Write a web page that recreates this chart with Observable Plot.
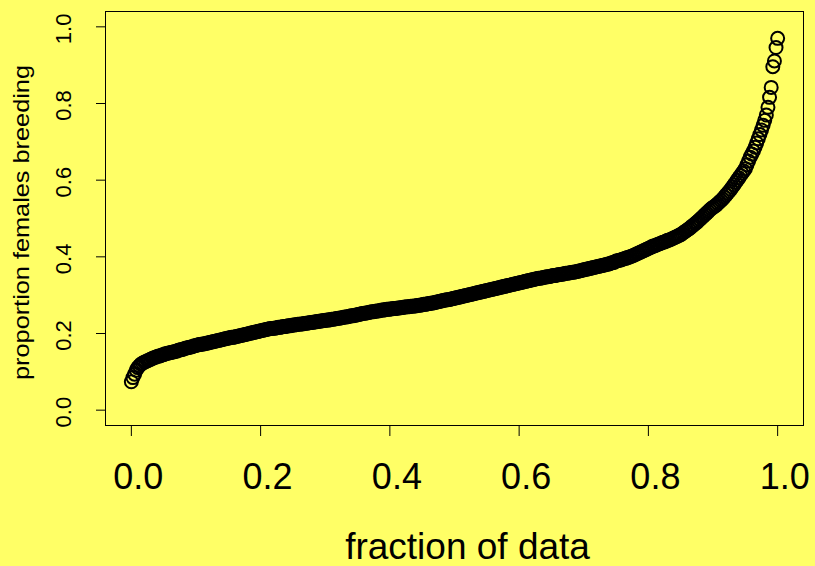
<!DOCTYPE html>
<html>
<head>
<meta charset="utf-8">
<script src="https://cdn.jsdelivr.net/npm/d3@7"></script>
<script src="https://cdn.jsdelivr.net/npm/@observablehq/plot@0.6"></script>
<style>
  html, body { margin: 0; padding: 0; background: #ffff66; }
  #chart svg { display: block; }
</style>
</head>
<body>
<div id="chart"></div>
<script>
// Sorted values (proportion females breeding), evenly spaced in fraction of data
const breedingValues = [
  0.074,0.085,0.094,0.104,0.111,0.116,0.120,0.123,0.125,0.127,0.129,0.131,0.133,0.135,0.137,0.138,0.140,0.141,0.142,0.144,
  0.145,0.147,0.148,0.149,0.150,0.151,0.152,0.153,0.154,0.156,0.157,0.158,0.159,0.161,0.162,0.163,0.164,0.165,0.166,0.168,
  0.169,0.170,0.171,0.172,0.172,0.173,0.174,0.175,0.176,0.177,0.178,0.179,0.180,0.181,0.182,0.183,0.184,0.185,0.186,0.187,
  0.188,0.189,0.190,0.190,0.191,0.192,0.193,0.194,0.195,0.196,0.197,0.198,0.199,0.200,0.201,0.202,0.203,0.204,0.205,0.206,
  0.207,0.208,0.209,0.210,0.211,0.212,0.213,0.213,0.214,0.214,0.215,0.216,0.216,0.217,0.218,0.218,0.219,0.220,0.220,0.221,
  0.222,0.222,0.223,0.224,0.224,0.225,0.225,0.226,0.227,0.227,0.228,0.229,0.229,0.230,0.230,0.231,0.232,0.232,0.233,0.234,
  0.234,0.235,0.235,0.236,0.237,0.237,0.238,0.239,0.240,0.240,0.241,0.242,0.243,0.243,0.244,0.245,0.246,0.246,0.247,0.248,
  0.249,0.250,0.251,0.252,0.253,0.253,0.254,0.255,0.256,0.257,0.257,0.258,0.259,0.259,0.260,0.261,0.261,0.262,0.263,0.263,
  0.264,0.264,0.265,0.265,0.266,0.266,0.267,0.267,0.268,0.269,0.269,0.270,0.270,0.271,0.271,0.272,0.272,0.273,0.274,0.274,
  0.275,0.276,0.276,0.277,0.278,0.279,0.279,0.280,0.281,0.282,0.283,0.284,0.285,0.286,0.287,0.288,0.288,0.289,0.290,0.291,
  0.292,0.293,0.294,0.295,0.296,0.297,0.298,0.299,0.300,0.301,0.302,0.303,0.304,0.305,0.306,0.307,0.308,0.309,0.310,0.311,
  0.312,0.313,0.314,0.315,0.316,0.317,0.318,0.319,0.320,0.321,0.322,0.323,0.324,0.325,0.326,0.327,0.328,0.329,0.330,0.331,
  0.332,0.333,0.334,0.335,0.336,0.337,0.338,0.339,0.340,0.341,0.342,0.343,0.344,0.344,0.345,0.346,0.347,0.348,0.348,0.349,
  0.350,0.351,0.351,0.352,0.353,0.354,0.354,0.355,0.356,0.357,0.357,0.358,0.359,0.360,0.360,0.361,0.362,0.363,0.364,0.365,
  0.366,0.367,0.368,0.369,0.370,0.371,0.372,0.373,0.374,0.375,0.376,0.377,0.378,0.379,0.380,0.381,0.382,0.384,0.385,0.386,
  0.389,0.390,0.391,0.392,0.394,0.395,0.396,0.398,0.399,0.401,0.402,0.404,0.406,0.408,0.410,0.412,0.414,0.416,0.418,0.420,
  0.422,0.424,0.426,0.428,0.429,0.431,0.433,0.434,0.436,0.438,0.439,0.441,0.443,0.444,0.446,0.448,0.450,0.452,0.454,0.456,
  0.458,0.461,0.464,0.467,0.470,0.473,0.476,0.480,0.483,0.487,0.490,0.494,0.498,0.502,0.506,0.510,0.514,0.518,0.522,0.526,
  0.529,0.532,0.535,0.539,0.543,0.547,0.551,0.556,0.561,0.566,0.571,0.576,0.582,0.588,0.594,0.600,0.606,0.612,0.618,0.624,
  0.630,0.640,0.650,0.660,0.668,0.676,0.686,0.697,0.708,0.719,0.731,0.743,0.756,0.770,0.790,0.816,0.842,0.896,0.911,0.946,
  0.970
];
const xTicks = [0, 0.2, 0.4, 0.6, 0.8, 1.0];
const yTicks = [0, 0.2, 0.4, 0.6, 0.8, 1.0];
const xTickLabels = ["0.0", "0.2", "0.4", "0.6", "0.8", "1.0"];
const yTickLabels = ["0.0", "0.2", "0.4", "0.6", "0.8", "1.0"];
const xTitle = "fraction of data";
const yTitle = "proportion females breeding";

const n = breedingValues.length;
const fractions = breedingValues.map((_, i) => i / (n - 1));

const font = "'Liberation Sans', Arial, Helvetica, sans-serif";

const chart = Plot.plot({
  width: 815,
  height: 566,
  marginLeft: 105,
  marginRight: 12,
  marginTop: 11,
  marginBottom: 141,
  style: { background: "#ffff66", fontFamily: font, color: "black" },
  x: { domain: [-0.04, 1.04], ticks: xTicks, tickSize: 11, tickFormat: () => "", label: null },
  y: { domain: [-0.04, 1.04], ticks: yTicks, tickSize: 9, tickFormat: () => "", label: null },
  marks: [
    Plot.frame({ stroke: "black", strokeWidth: 1 }),
    Plot.dot(breedingValues, {
      x: fractions,
      y: breedingValues,
      r: 6.5,
      stroke: "black",
      strokeWidth: 2,
      fill: "none"
    }),
    Plot.text(xTicks, {
      x: d => d,
      text: (d, i) => xTickLabels[i],
      frameAnchor: "bottom",
      lineAnchor: "bottom",
      textAnchor: "middle",
      dy: 63.5,
      dx: 7,
      fontSize: 36,
      fill: "black"
    }),
    Plot.text(yTicks, {
      y: d => d,
      text: (d, i) => yTickLabels[i],
      frameAnchor: "left",
      lineAnchor: "bottom",
      textAnchor: "middle",
      rotate: -90,
      dx: -34.5,
      dy: 2,
      fontSize: 22,
      fill: "black"
    }),
    Plot.text([xTitle], {
      text: d => d,
      frameAnchor: "bottom",
      lineAnchor: "bottom",
      textAnchor: "middle",
      dy: 133.5,
      dx: 13,
      fontSize: 37,
      fill: "black"
    }),
    Plot.text([yTitle], {
      text: d => d,
      frameAnchor: "left",
      lineAnchor: "bottom",
      textAnchor: "middle",
      rotate: -90,
      dx: -76.5,
      dy: 4,
      fontSize: 22,
      fill: "black"
    })
  ]
});

// stretch the y title along its length to match the original's proportions
d3.select(chart).selectAll("text")
  .filter(function () { return this.textContent === yTitle; })
  .attr("textLength", 315)
  .attr("lengthAdjust", "spacingAndGlyphs");

document.getElementById("chart").appendChild(chart);
</script>
</body>
</html>
